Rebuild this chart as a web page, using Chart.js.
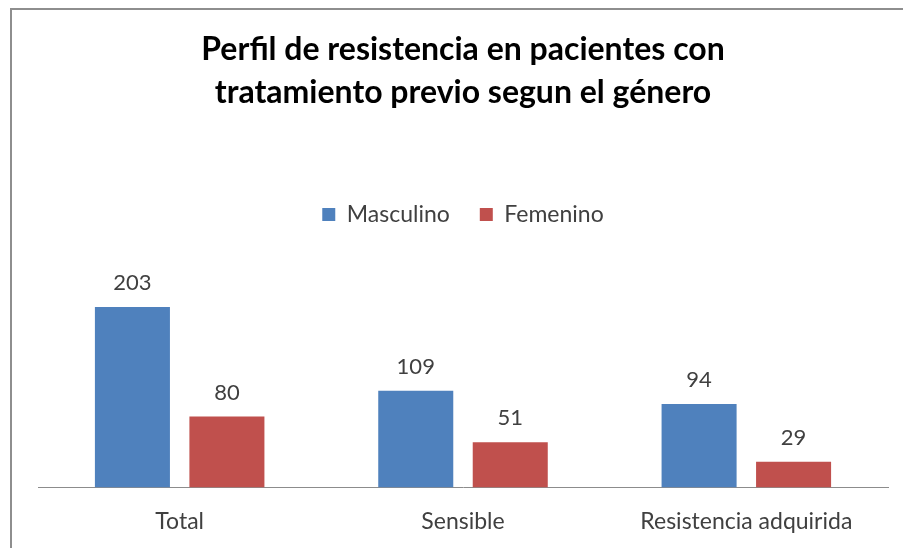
<!DOCTYPE html>
<html>
<head>
<meta charset="utf-8">
<script src="https://cdn.jsdelivr.net/npm/chart.js@4/dist/chart.umd.min.js"></script>
<style>
  html, body { margin: 0; padding: 0; background: #ffffff; }
  #wrap { position: relative; width: 903px; height: 548px; overflow: hidden; background: #ffffff; }
  #frame { position: absolute; left: 10px; top: 8px; width: 1000px; height: 1000px;
           border-left: 2px solid #8e8e8e; border-top: 2px solid #8e8e8e; box-sizing: border-box; }
  canvas { position: absolute; left: 0; top: 0; }
</style>
</head>
<body>
<div id="wrap">
  <div id="frame"></div>
  <canvas id="c" width="903" height="548"></canvas>
</div>
<script>
const categories = ["Total", "Sensible", "Resistencia adquirida"];
const masculino = [203, 109, 94];
const femenino = [80, 51, 29];
const seriesNames = ["Masculino", "Femenino"];
const titleLines = ["Perfil de resistencia en pacientes con", "tratamiento previo segun el género"];

const FONT = "Lato, 'Open Sans', sans-serif";

const valueLabels = {
  id: 'valueLabels',
  afterDatasetsDraw(chart) {
    const ctx = chart.ctx;
    ctx.save();
    ctx.font = "22px " + FONT;
    ctx.fillStyle = "#404040";
    ctx.textAlign = "center";
    ctx.textBaseline = "middle";
    chart.data.datasets.forEach((ds, i) => {
      const meta = chart.getDatasetMeta(i);
      meta.data.forEach((bar, j) => {
        ctx.fillText(String(ds.data[j]), bar.x, bar.y - 24);
      });
    });
    ctx.restore();
  }
};

new Chart(document.getElementById('c'), {
  type: 'bar',
  data: {
    labels: categories,
    datasets: [
      { label: seriesNames[0], data: masculino, backgroundColor: '#4F81BD', borderWidth: 0 },
      { label: seriesNames[1], data: femenino, backgroundColor: '#C0504D', borderWidth: 0 }
    ]
  },
  options: {
    responsive: false,
    animation: false,
    devicePixelRatio: 1,
    layout: { padding: { left: 38, right: 15, top: 0, bottom: 0 } },
    datasets: { bar: { categoryPercentage: 0.667, barPercentage: 0.794 } },
    plugins: {
      title: {
        display: true,
        text: titleLines,
        color: '#000000',
        font: { family: FONT, size: 32, weight: 'bold', lineHeight: 1.344 },
        padding: { top: 28, bottom: 59 }
      },
      legend: {
        display: true,
        position: 'top',
        labels: {
          boxWidth: 13, boxHeight: 13, padding: 30,
          color: '#404040',
          font: { family: FONT, size: 23 }
        }
      },
      tooltip: { enabled: false }
    },
    scales: {
      x: {
        grid: { display: false, drawTicks: false },
        border: { display: true, color: '#8c8c8c', width: 1 },
        ticks: { padding: 20, color: '#404040', font: { family: FONT, size: 23 } },
        afterFit(scale) { scale.height = 60.5; }
      },
      y: {
        display: false,
        min: 0,
        max: 283
      }
    }
  },
  plugins: [valueLabels]
});
</script>
</body>
</html>
